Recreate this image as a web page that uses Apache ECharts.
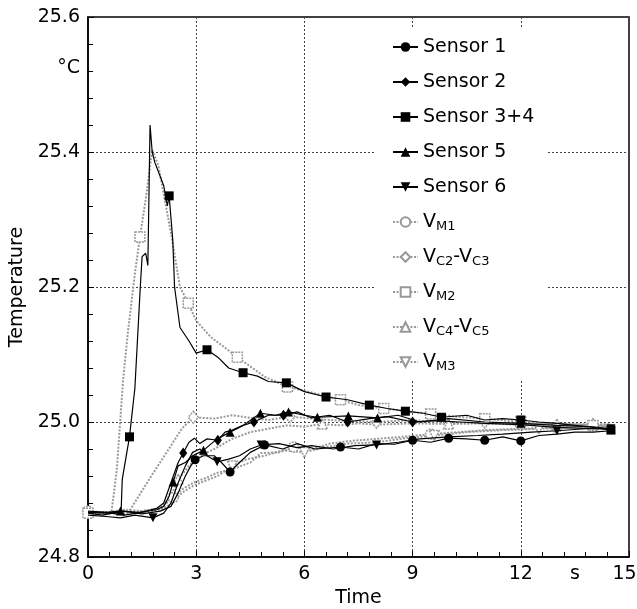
<!DOCTYPE html>
<html>
<head>
<meta charset="utf-8">
<script src="https://cdn.jsdelivr.net/npm/echarts@6/dist/echarts.min.js"></script>
<style>html,body{margin:0;padding:0;background:#fff;}#c{width:637px;height:609px;}</style>
</head>
<body>
<div id="c"></div>
<script>
// ---- data (time in s, temperature in °C) ----
const xTickLabels = [0, 3, 6, 9, 12, 13.5, 15];
const yTickLabels = [24.8, 25.0, 25.2, 25.4, 25.525, 25.6];
const seriesNames = ['Sensor 1', 'Sensor 2', 'Sensor 3+4', 'Sensor 5', 'Sensor 6', 'VM1', 'VC2-VC3', 'VM2', 'VC4-VC5', 'VM3'];
const legendLabels = ['Sensor 1', 'Sensor 2', 'Sensor 3+4', 'Sensor 5', 'Sensor 6', 'V{sub|M1}', 'V{sub|C2}-V{sub|C3}', 'V{sub|M2}', 'V{sub|C4}-V{sub|C5}', 'V{sub|M3}'];

const sensor1 = [[0,24.866],[0.5,24.865],[1.0,24.868],[1.5,24.864],[2.0,24.868],[2.3,24.875],[2.5,24.895],[2.7,24.92],[2.85,24.935],[2.97,24.944],[3.2,24.95],[3.5,24.95],[3.7,24.94],[3.94,24.926],[4.2,24.94],[4.5,24.955],[4.9,24.966],[5.4,24.96],[5.8,24.968],[6.3,24.96],[7.0,24.963],[7.5,24.96],[8.0,24.968],[8.5,24.967],[9.0,24.973],[9.5,24.97],[10,24.976],[10.5,24.975],[11,24.973],[11.5,24.978],[12,24.972],[12.5,24.98],[13,24.982],[13.5,24.985],[14,24.985],[14.5,24.987]];
const sensor1Marks = [2.97, 3.94, 4.9, 7.0, 9.0, 10, 11, 12];

const sensor2 = [[0,24.868],[0.5,24.866],[1.0,24.862],[1.5,24.866],[1.9,24.872],[2.1,24.88],[2.3,24.91],[2.5,24.94],[2.64,24.954],[2.8,24.97],[2.95,24.976],[3.1,24.968],[3.3,24.975],[3.6,24.973],[3.8,24.985],[4.0,24.988],[4.3,24.995],[4.6,25.0],[5.0,25.01],[5.42,25.01],[5.8,25.015],[6.2,25.006],[6.7,25.01],[7.2,25.0],[7.8,25.005],[8.3,25.008],[9,25.0],[9.6,25.002],[10.3,25.0],[11,24.998],[12,24.996],[13,24.992],[14,24.99],[14.5,24.99]];
const sensor2Marks = [2.64, 3.6, 4.6, 5.42, 7.2, 9.0];

const sensor34 = [[0,24.865],[0.4,24.862],[0.8,24.866],[0.92,24.87],[0.95,24.915],[1.15,24.978],[1.3,25.05],[1.45,25.2],[1.5,25.245],[1.6,25.25],[1.66,25.232],[1.72,25.44],[1.78,25.4],[1.85,25.385],[2.1,25.35],[2.2,25.32],[2.25,25.335],[2.35,25.27],[2.4,25.2],[2.55,25.14],[2.8,25.12],[3.0,25.102],[3.3,25.107],[3.6,25.096],[3.9,25.08],[4.3,25.073],[4.7,25.068],[5.0,25.06],[5.5,25.058],[6.0,25.045],[6.6,25.037],[7.2,25.033],[7.8,25.025],[8.3,25.02],[8.8,25.016],[9.3,25.013],[9.8,25.007],[10.5,25.01],[11,25.003],[11.5,25.005],[12,25.003],[12.5,25.0],[13,24.998],[13.5,24.995],[14,24.992],[14.5,24.988]];
const sensor34Marks = [1.15, 2.25, 3.3, 4.3, 5.5, 6.6, 7.8, 8.8, 9.8, 12, 14.5];

const sensor5 = [[0,24.866],[0.5,24.866],[0.9,24.868],[1.4,24.866],[1.9,24.87],[2.1,24.875],[2.25,24.89],[2.36,24.911],[2.5,24.935],[2.7,24.94],[2.9,24.95],[3.2,24.958],[3.58,24.975],[3.94,24.985],[4.3,24.995],[4.78,25.013],[5.2,25.01],[5.56,25.015],[6.0,25.01],[6.36,25.007],[7.22,25.009],[8.03,25.006],[8.6,25.01],[9.2,25.0],[10,25.005],[11,25.0],[12,24.998],[13,24.995],[14,24.993],[14.5,24.99]];
const sensor5Marks = [0.9, 2.36, 3.2, 3.94, 4.78, 5.56, 6.36, 7.22, 8.03, 12, 14.5];

const sensor6 = [[0,24.862],[0.5,24.86],[0.9,24.858],[1.3,24.862],[1.8,24.858],[2.1,24.865],[2.3,24.88],[2.5,24.91],[2.7,24.935],[2.9,24.955],[3.1,24.96],[3.3,24.95],[3.58,24.941],[3.9,24.945],[4.2,24.95],[4.5,24.96],[4.8,24.966],[5.3,24.968],[5.8,24.962],[6.2,24.965],[6.8,24.96],[7.4,24.965],[8.0,24.966],[8.6,24.97],[9.2,24.975],[10,24.978],[10.8,24.98],[11.5,24.982],[12.3,24.985],[13,24.987],[13.8,24.99],[14.5,24.99]];
const sensor6Marks = [1.8, 3.58, 4.8, 8.0, 13.0, 14.5];

const vm1 = [[0,24.868],[0.5,24.866],[1.0,24.87],[1.5,24.868],[2.0,24.872],[2.36,24.888],[2.6,24.9],[2.92,24.91],[3.3,24.918],[3.6,24.925],[4.0,24.93],[4.5,24.94],[4.8,24.954],[5.3,24.955],[5.7,24.963],[6.2,24.96],[6.7,24.968],[7.3,24.972],[8,24.975],[8.7,24.978],[9.5,24.982],[10.3,24.985],[11,24.988],[12,24.99],[13,24.992],[14,24.993],[14.5,24.993]];
const vm1Marks = [0, 2.36, 5.7, 9.5, 13];

const vc23 = [[0,24.865],[1.0,24.866],[1.17,24.87],[1.72,24.917],[2.3,24.965],[2.6,24.99],[2.92,25.007],[3.5,25.005],[4.0,25.01],[4.5,25.006],[5.0,25.003],[5.6,25.008],[6.2,25.005],[7,25.002],[8,25.0],[9,25.003],[10,24.998],[11,25.0],[12,24.997],[13,24.998],[14,24.996],[14.5,24.997]];
const vc23Marks = [2.92, 5.6, 8, 11, 14];

const vm2 = [[0,24.865],[0.4,24.866],[0.65,24.866],[0.8,24.93],[0.97,25.06],[1.1,25.13],[1.3,25.22],[1.44,25.274],[1.6,25.33],[1.78,25.403],[1.95,25.38],[2.3,25.28],[2.55,25.2],[2.78,25.176],[3.0,25.15],[3.4,25.126],[3.8,25.11],[4.14,25.096],[4.9,25.067],[5.53,25.052],[6.1,25.045],[7.0,25.033],[7.5,25.025],[8.2,25.02],[8.8,25.016],[9.5,25.012],[10.2,25.008],[11,25.005],[12,25.0],[13,24.997],[14,24.995],[14.5,24.994]];
const vm2Marks = [0, 1.44, 2.78, 4.14, 5.53, 7.0, 8.2, 9.5, 11, 12, 14];

const vc45 = [[0,24.866],[1.0,24.866],[1.5,24.868],[2.0,24.872],[2.3,24.89],[2.5,24.915],[2.8,24.935],[3.1,24.95],[3.5,24.96],[4.0,24.975],[4.5,24.985],[5.0,24.99],[5.5,24.995],[6.0,24.993],[6.5,24.997],[7.0,24.995],[7.5,24.998],[8.0,24.996],[9,24.998],[10,24.997],[11,24.998],[12,24.996],[13,24.997],[14,24.996],[14.5,24.996]];
const vc45Marks = [2.5, 6.5, 10, 13];

const vm3 = [[0,24.864],[1.0,24.865],[1.5,24.866],[2.0,24.87],[2.3,24.878],[2.6,24.895],[2.9,24.905],[3.2,24.912],[3.6,24.92],[4.0,24.935],[4.4,24.945],[4.9,24.95],[5.4,24.958],[6.0,24.955],[6.5,24.962],[7.2,24.968],[8.0,24.97],[8.8,24.976],[9.6,24.98],[10.5,24.985],[11.5,24.988],[12.5,24.99],[13.5,24.992],[14.5,24.994]];
const vm3Marks = [4.0, 6.0, 9.6, 12.5];

// ---- build chart ----
function withMarks(data, marks) {
  return data.map(p => marks.indexOf(p[0]) >= 0 ? { value: p } : { value: p, symbol: 'none' });
}
const FONT = 'DejaVu Sans';
const GRAY = '#999999';
function blackSeries(name, data, marks, symbol, size, rot) {
  return {
    name, type: 'line', data: withMarks(data, marks), symbol, symbolSize: size, symbolRotate: rot || 0,
    lineStyle: { color: '#000', width: 1.2 }, itemStyle: { color: '#000', borderWidth: 0 },
    z: 3, animation: false, emphasis: { disabled: true }
  };
}
function graySeries(name, data, marks, symbol, size, rot) {
  return {
    name, type: 'line', data: withMarks(data, marks), symbol, symbolSize: size, symbolRotate: rot || 0,
    lineStyle: { color: GRAY, width: 2, type: [2, 1.5] },
    itemStyle: { color: '#fff', borderColor: GRAY, borderWidth: 1.5, borderType: [2, 1] },
    z: 2, animation: false, emphasis: { disabled: true }
  };
}

const chart = echarts.init(document.getElementById('c'), null, { renderer: 'canvas' });
chart.setOption({
  animation: false,
  backgroundColor: '#fff',
  textStyle: { fontFamily: FONT },
  grid: { left: 88, right: 8, top: 17, bottom: 52, outerBoundsMode: 'none', containLabel: false, show: true, borderColor: '#000', borderWidth: 1.5, backgroundColor: 'transparent' },
  xAxis: {
    type: 'value', min: 0, max: 15, interval: 3,
    name: 'Time', nameLocation: 'middle', nameGap: 32,
    nameTextStyle: { fontSize: 19, color: '#000', fontFamily: FONT },
    axisLine: { show: true, onZero: false, lineStyle: { color: '#000', width: 1.5 } },
    axisTick: { show: true, inside: true, length: 6, lineStyle: { color: '#000' } },
    minorTick: { show: true, splitNumber: 5, length: 5, lineStyle: { color: '#000' } },
    axisLabel: {
      customValues: xTickLabels, fontSize: 19, color: '#000', margin: 8, fontFamily: FONT,
      formatter: v => (v === 13.5 ? 's' : (v === 15 ? '{e|15}' : String(v))),
      rich: { e: { fontSize: 19, fontFamily: FONT, color: '#000', padding: [0, 9, 0, 0] } }
    },
    splitLine: { show: true, lineStyle: { color: '#444', type: [2, 2], width: 1 } }
  },
  yAxis: {
    type: 'value', min: 24.8, max: 25.6, interval: 0.2,
    name: 'Temperature', nameLocation: 'middle', nameGap: 56,
    nameTextStyle: { fontSize: 19, color: '#000', fontFamily: FONT },
    axisLine: { show: true, onZero: false, lineStyle: { color: '#000', width: 1.5 } },
    axisTick: { show: true, inside: true, length: 6, lineStyle: { color: '#000' } },
    minorTick: { show: true, splitNumber: 5, length: 5, lineStyle: { color: '#000' } },
    axisLabel: {
      customValues: yTickLabels, fontSize: 19, color: '#000', margin: 8, fontFamily: FONT,
      formatter: v => (Math.abs(v - 25.525) < 1e-6 ? '°C' : v.toFixed(1))
    },
    splitLine: { show: true, lineStyle: { color: '#444', type: [2, 2], width: 1 } }
  },
  legend: {
    orient: 'vertical', left: 375, top: 28,
    padding: [8, 12, 6, 17],
    backgroundColor: '#fff',
    itemWidth: 25, itemHeight: 12, itemGap: 13,
    data: seriesNames,
    formatter: name => legendLabels[seriesNames.indexOf(name)],
    textStyle: {
      fontSize: 19, color: '#000', fontFamily: FONT, lineHeight: 22, height: 22,
      rich: { sub: { fontSize: 13, fontFamily: FONT, color: '#000', verticalAlign: 'bottom', lineHeight: 22, padding: [9, 0, 0, 0] } }
    }
  },
  series: [
    blackSeries('Sensor 1', sensor1, sensor1Marks, 'circle', 9),
    blackSeries('Sensor 2', sensor2, sensor2Marks, 'diamond', [8, 11]),
    blackSeries('Sensor 3+4', sensor34, sensor34Marks, 'rect', 9),
    blackSeries('Sensor 5', sensor5, sensor5Marks, 'triangle', 9),
    blackSeries('Sensor 6', sensor6, sensor6Marks, 'triangle', 9, 180),
    graySeries('VM1', vm1, vm1Marks, 'circle', 10),
    graySeries('VC2-VC3', vc23, vc23Marks, 'diamond', [10, 12]),
    graySeries('VM2', vm2, vm2Marks, 'rect', 10),
    graySeries('VC4-VC5', vc45, vc45Marks, 'triangle', 10),
    graySeries('VM3', vm3, vm3Marks, 'triangle', 10, 180)
  ]
});
</script>
</body>
</html>
